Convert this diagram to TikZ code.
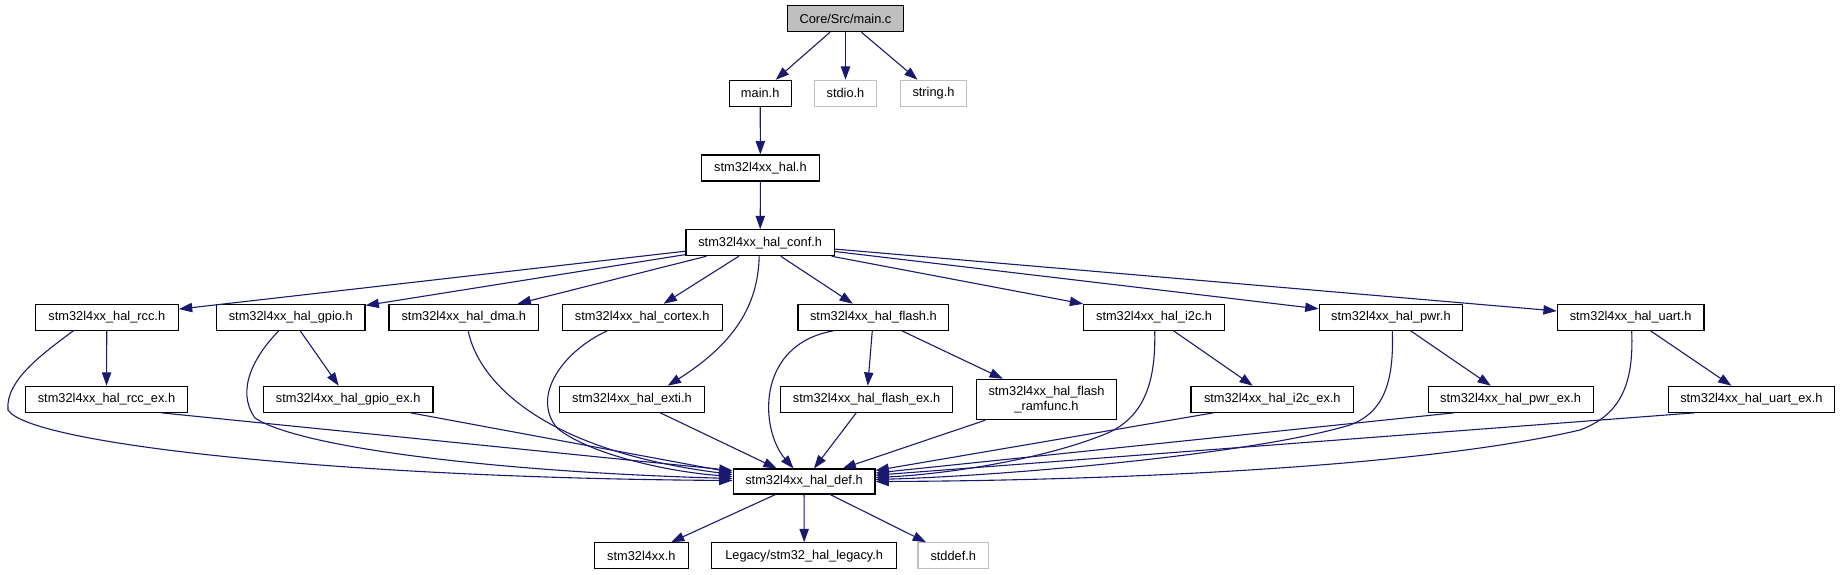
\documentclass[tikz,border=0pt]{standalone}
\usepackage{fontspec}
\setmainfont{Liberation Sans}
\usetikzlibrary{arrows.meta,calc}
\definecolor{edgeblue}{HTML}{191970}
\definecolor{nodegray}{HTML}{BFBFBF}
\begin{document}
\begin{tikzpicture}[x=1pt,y=-1pt,
  box/.style={draw=black,fill=white,line width=1.1pt,minimum height=26pt,inner sep=0pt,font=\fontsize{12.8}{14.5}\selectfont},
  ext/.style={box,draw=nodegray},
  arr/.style={draw=edgeblue,line width=1.1pt,-{Triangle[length=13.3pt,width=9.3pt]}}]
\useasboundingbox (0,0) rectangle (1842,575);
% row 0
\node[box,fill=nodegray,minimum width=116.2pt] (mainc) at (845.5,18.7) {Core/Src/main.c};
% row 1
\node[box,minimum width=61.7pt] (mainh) at (760.2,93.3) {main.h};
\node[ext,minimum width=62.2pt] (stdio) at (845.5,93.3) {stdio.h};
\node[ext,minimum width=65.7pt] (string) at (933.5,93.3) {string.h};
% row 2-3
\node[box,minimum width=117.4pt] (hal) at (760.4,168) {stm32l4xx\_hal.h};
\node[box,minimum width=148.4pt] (conf) at (760.2,242.7) {stm32l4xx\_hal\_conf.h};
% row 4
\node[box,minimum width=143.2pt] (rcc) at (106.8,317.3) {stm32l4xx\_hal\_rcc.h};
\node[box,minimum width=148.5pt] (gpio) at (290.75,317.3) {stm32l4xx\_hal\_gpio.h};
\node[box,minimum width=149.6pt] (dma) at (463.8,317.3) {stm32l4xx\_hal\_dma.h};
\node[box,minimum width=160.2pt] (cortex) at (642.2,317.3) {stm32l4xx\_hal\_cortex.h};
\node[box,minimum width=150.8pt] (flash) at (873.4,317.3) {stm32l4xx\_hal\_flash.h};
\node[box,minimum width=140.8pt] (i2c) at (1154.1,317.3) {stm32l4xx\_hal\_i2c.h};
\node[box,minimum width=143.7pt] (pwr) at (1390.9,317.3) {stm32l4xx\_hal\_pwr.h};
\node[box,minimum width=146.7pt] (uart) at (1630.6,317.3) {stm32l4xx\_hal\_uart.h};
% row 5
\node[box,minimum width=162.6pt] (rccex) at (106.5,399.3) {stm32l4xx\_hal\_rcc\_ex.h};
\node[box,minimum width=169.6pt] (gpioex) at (348.2,399.3) {stm32l4xx\_hal\_gpio\_ex.h};
\node[box,minimum width=145.5pt] (exti) at (632,399.3) {stm32l4xx\_hal\_exti.h};
\node[box,minimum width=172.5pt] (flashex) at (866.6,399.3) {stm32l4xx\_hal\_flash\_ex.h};
\node[box,minimum width=140.3pt,minimum height=40.4pt,align=center] (ramfunc) at (1046.5,399.5) {stm32l4xx\_hal\_flash\\\_ramfunc.h};
\node[box,minimum width=162.6pt] (i2cex) at (1272.3,399.3) {stm32l4xx\_hal\_i2c\_ex.h};
\node[box,minimum width=164.9pt] (pwrex) at (1510.6,399.3) {stm32l4xx\_hal\_pwr\_ex.h};
\node[box,minimum width=166.6pt] (uartex) at (1751.4,399.3) {stm32l4xx\_hal\_uart\_ex.h};
% row 6
\node[box,minimum width=141.9pt,minimum height=25pt] (def) at (804,481.5) {stm32l4xx\_hal\_def.h};
% row 7
\node[box,minimum width=93.9pt] (l4xx) at (641.3,555.8) {stm32l4xx.h};
\node[box,minimum width=184.9pt] (legacy) at (804.2,555.8) {Legacy/stm32\_hal\_legacy.h};
\node[ext,minimum width=70.6pt] (stddef) at (953.3,555.8) {stddef.h};

% edges
\draw[arr] (mainc) -- (mainh);
\draw[arr] (mainc) -- (stdio);
\draw[arr] (mainc) -- (string);
\draw[arr] (mainh) -- (hal);
\draw[arr] (hal) -- (conf);
\draw[arr] (conf) -- (rcc);
\draw[arr] (conf) -- (gpio);
\draw[arr] (conf) -- (dma);
\draw[arr] (conf) -- (cortex);
\draw[arr] (conf) -- (flash);
\draw[arr] (conf) -- (i2c);
\draw[arr] (conf) -- (pwr);
\draw[arr] (conf) -- (uart);
\draw[arr] ($(conf.south)+(-1,0)$) .. controls (758,300) and (740,340) .. ($(exti.north)+(35.7,0)$);

\draw[arr] (rcc) -- (rccex);
\draw[arr] (gpio) -- (gpioex);
\draw[arr] (flash) -- (flashex);
\draw[arr] (flash) -- (ramfunc);
\draw[arr] (i2c) -- (i2cex);
\draw[arr] (pwr) -- (pwrex);
\draw[arr] (uart) -- (uartex);

% curved edges into def
\draw[arr] ($(rcc.south)+(-33.5,0)$) .. controls (45,352) and (5,380) .. (8,410)
  .. controls (30,445) and (350,478) .. ($(def.west)+(0,-1)$);
\draw[arr] ($(gpio.south)+(-12,0)$) .. controls (255,355) and (235,390) .. (255,418)
  .. controls (300,448) and (500,472) .. ($(def.west)+(0,-3)$);
\draw[arr] ($(dma.south)+(4.4,0)$) .. controls (478,380) and (540,450) .. ($(def.west)+(0,-7)$);
\draw[arr] ($(cortex.south)+(-35,0)$) .. controls (565,350) and (530,395) .. (557,428)
  .. controls (590,455) and (670,472) .. ($(def.west)+(0,-5)$);
\draw[arr] ($(flash.south)+(-40.2,0)$) .. controls (755,345) and (760,430) .. ($(def.north)+(-10.5,0)$);
\draw[arr] ($(i2c.south)+(0.6,0)$) .. controls (1156,380) and (1145,415) .. (1110,432)
  .. controls (1050,458) and (950,474) .. ($(def.east)+(0,-4)$);
\draw[arr] ($(pwr.south)+(1.4,0)$) .. controls (1394,380) and (1385,412) .. (1350,425)
  .. controls (1250,455) and (1000,476) .. ($(def.east)+(0,-2)$);
\draw[arr] ($(uart.south)+(1.1,0)$) .. controls (1634,385) and (1620,415) .. (1580,430)
  .. controls (1400,472) and (1050,481) .. ($(def.east)+(0,0)$);

% straight edges into def
\draw[arr] ($(rccex.south)+(54.9,0)$) -- ($(def.west)+(0,-11)$);
\draw[arr] ($(gpioex.south)+(62.5,0)$) -- ($(def.west)+(0,-9)$);
\draw[arr] (exti) -- (def);
\draw[arr] (flashex) -- (def);
\draw[arr] (ramfunc) -- (def);
\draw[arr] ($(i2cex.south)+(-58.9,0)$) -- ($(def.east)+(0,-11)$);
\draw[arr] ($(pwrex.south)+(-56.6,0)$) -- ($(def.east)+(0,-8.5)$);
\draw[arr] ($(uartex.south)+(-56.9,0)$) -- ($(def.east)+(0,-6.3)$);

% def outgoing
\draw[arr] (def) -- (l4xx);
\draw[arr] (def) -- (legacy);
\draw[arr] (def) -- (stddef);
\end{tikzpicture}
\end{document}
